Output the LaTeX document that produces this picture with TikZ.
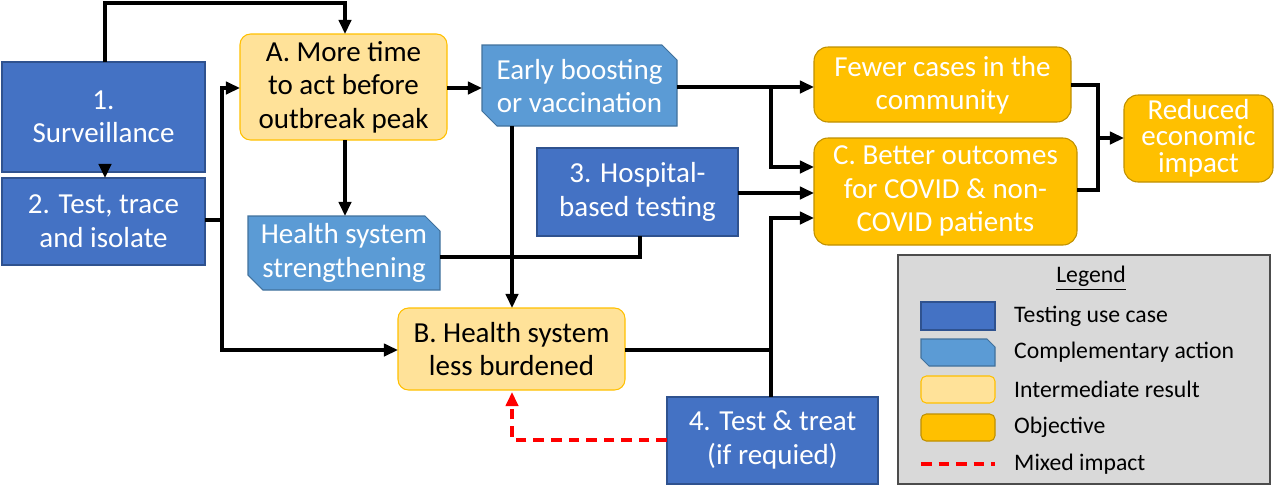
\documentclass[tikz,border=0pt]{standalone}
\usepackage{fontspec}
\setmainfont{Carlito}
\usetikzlibrary{arrows.meta}
\definecolor{dblue}{HTML}{4472C4}
\definecolor{dbord}{HTML}{2F528F}
\definecolor{lblue}{HTML}{5B9BD5}
\definecolor{lbord}{HTML}{41719C}
\definecolor{lorange}{HTML}{FFE299}
\definecolor{lobord}{HTML}{FFC000}
\definecolor{orng}{HTML}{FFC000}
\definecolor{obord}{HTML}{BF9000}
\begin{document}
\begin{tikzpicture}[x=0.02cm,y=-0.02cm,
 txt/.style={font=\fontsize{16.5}{19}\selectfont,align=center,text=white},
 use/.style={draw=dbord,fill=dblue,line width=0.6pt},
 comp/.style={draw=lbord,fill=lblue,line width=0.6pt},
 inter/.style={draw=lobord,fill=lorange,rounded corners=6pt,line width=0.6pt},
 obj/.style={draw=obord,fill=orng,rounded corners=8pt,line width=0.6pt},
 ar/.style={-{Triangle[length=8pt,width=7pt]},line width=1.8pt},
 ln/.style={line width=1.8pt},
 dsh/.style={-{Triangle[length=8pt,width=7pt]},line width=1.8pt,red,dash pattern=on 6pt off 4pt},
 lt/.style={font=\fontsize{13.5}{15}\selectfont,anchor=west}]
\useasboundingbox (0,0) rectangle (1280,488);
% boxes
\draw[use] (2,62) rectangle (205,172); \node[txt] (s1) at (103.5,117) {1.\\Surveillance};
\coordinate (s1t) at (105,62); \coordinate (s1b) at (105,172);
\draw[use] (2,178) rectangle (205,265); \node[txt] (s2) at (103.5,221) {2. Test, trace\\and isolate};
\coordinate (s2t) at (105,178);
\draw[inter] (240,34) rectangle (447,140); \node[txt,text=black] (A) at (343.5,87) {A. More time\\to act before\\outbreak peak};
\draw[comp] (482,45) -- (662,45) -- (677,60) -- (677,126) -- (497,126) -- (482,111) -- cycle;
\node[txt] (E) at (579.5,86) {Early boosting\\or vaccination};
\draw[comp] (248,216) -- (425,216) -- (440,231) -- (440,290) -- (263,290) -- (248,275) -- cycle;
\node[txt] (H) at (344,253) {Health system\\strengthening};
\draw[use] (537,148) rectangle (738,236); \node[txt] (h3) at (637.5,192) {3. Hospital-\\based testing};
\draw[obj] (814,47) rectangle (1071,122); \node[txt] (F) at (942.5,85) {Fewer cases in the\\community};
\draw[obj] (814,138) rectangle (1077,245); \node[txt] (C) at (945.5,191) {C. Better outcomes\\for COVID \& non-\\COVID patients};
\draw[obj] (1124,95) rectangle (1273,182); \node[txt,font=\fontsize{16.5}{15}\selectfont] (R) at (1198.5,138) {Reduced\\economic\\impact};
\draw[inter] (398,308) rectangle (625,390); \node[txt,text=black] (B) at (511.5,349) {B. Health system\\less burdened};
\draw[use] (667,397) rectangle (878,484); \node[txt] (t4) at (772.5,440) {4. Test \& treat\\(if requied)};
% connectors
\draw[ar] (s1t) -- (105,3) -- (345,3) -- (345,34);
\draw[ar] (s1b) -- (s2t);
\draw[ln] (205,220) -- (222,220);
\draw[ar] (222,220) -- (222,88) -- (240,88);
\draw[ar] (222,220) -- (222,350) -- (398,350);
\draw[ar] (447,88) -- (482,88);
\draw[ar] (345,140) -- (345,216);
\draw[ar] (677,87) -- (814,87);
\draw[ar] (771,87) -- (771,167) -- (814,167);
\draw[ar] (512,126) -- (512,308);
\draw[ar] (738,193) -- (814,193);
\draw[ln] (440,257) -- (640,257) -- (640,236);
\draw[ln] (625,350) -- (771,350);
\draw[ar] (771,397) -- (771,218) -- (814,218);
\draw[ln] (1071,85) -- (1098,85) -- (1098,190) -- (1077,190);
\draw[ar] (1098,138) -- (1124,138);
\draw[dsh] (667,440) -- (512,440) -- (512,392);
% legend
\draw[draw=black!70,fill=black!15,line width=0.8pt] (898,255) rectangle (1270,484);
\node[font=\fontsize{13.5}{15}\selectfont] (L) at (1091,278) {\underline{Legend}};
\draw[use] (921,302) rectangle (995,330); \node[lt] (l1) at (1008,316) {Testing use case};
\draw[comp] (921,339) -- (987,339) -- (995,347) -- (995,366) -- (929,366) -- (921,358) -- cycle;
\node[lt] (l2) at (1008,352) {Complementary action};
\draw[inter,rounded corners=3pt] (921,376) rectangle (995,403); \node[lt] (l3) at (1008,389) {Intermediate result};
\draw[obj,rounded corners=3pt] (921,414) rectangle (995,441); \node[lt] (l4) at (1008,427) {Objective};
\draw[line width=1.8pt,red,dash pattern=on 6pt off 4pt] (921,464) -- (995,464);
\node[lt] (l5) at (1008,464) {Mixed impact};
\end{tikzpicture}
\end{document}
